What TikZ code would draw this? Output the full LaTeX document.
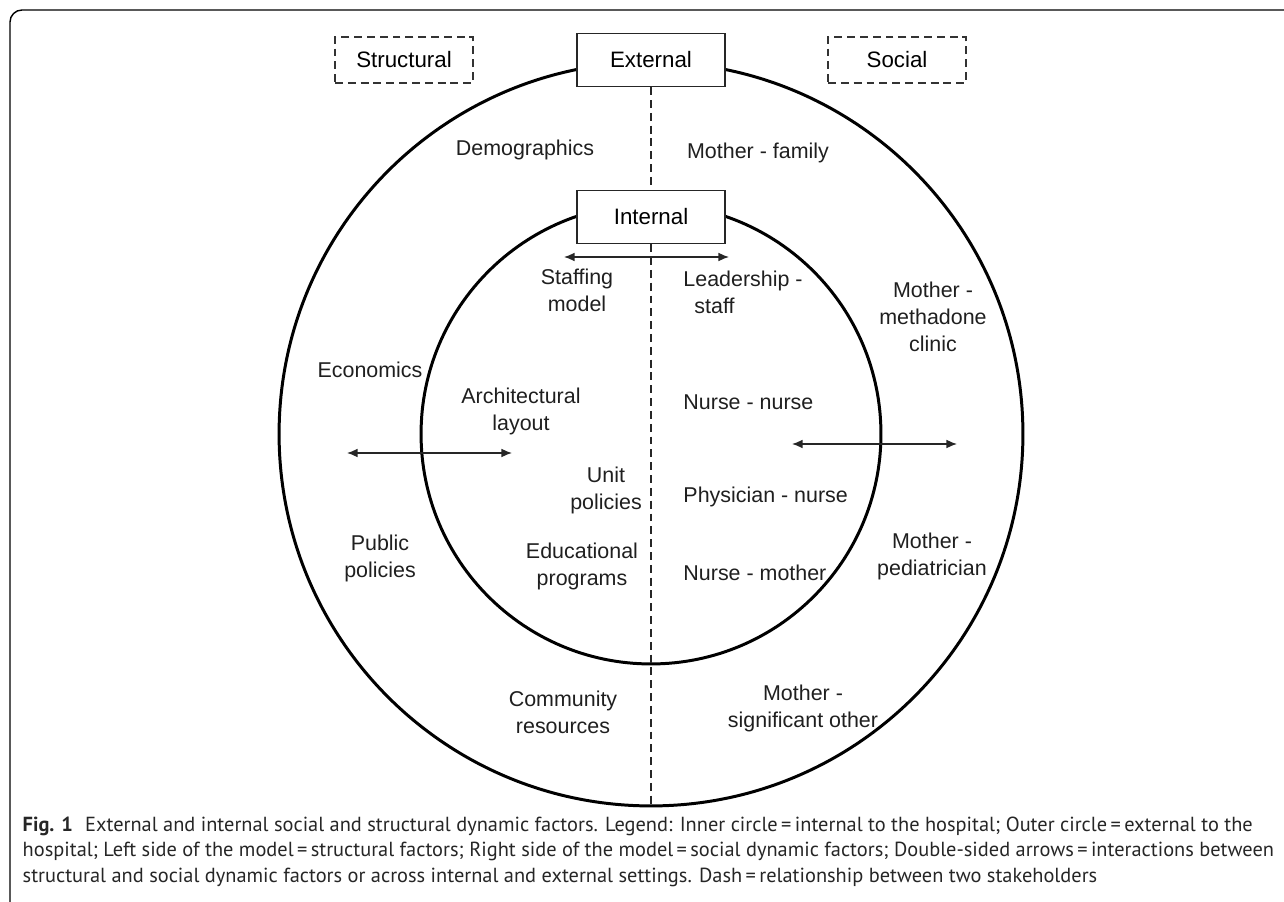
\documentclass[tikz,border=0pt]{standalone}
\usepackage{fontspec}
\setmainfont{Liberation Sans}
\newfontfamily\captionfont{PT Sans}
\usepackage{tikz}
\usetikzlibrary{arrows.meta,positioning}
\tikzset{
	block/.style     = {draw=black!85, line width=0.8pt, rectangle, fill=white,
		font = \fontsize{12.7}{15}\selectfont,
		minimum height = 1.06cm,
		minimum width = 2.96cm},
	dashblock/.style = {draw=black!80, line width=0.8pt, rectangle,
		font = \fontsize{12.7}{15}\selectfont,
		dash pattern = on 4.5pt off 2.8pt,
		minimum height = 0.92cm,
		minimum width = 2.76cm},
	ring/.style      = {draw, circle, line width=1.7pt, inner sep=0pt},
	factor/.style    = {text=black!88, align=center, inner sep=1pt,
		font = \fontsize{12.2}{15.4}\selectfont},
	dashline/.style  = {draw=black!85, line width=0.75pt, dash pattern=on 4.5pt off 2.8pt},
	link/.style      = {draw=black!85, line width=0.8pt, <->},
}

\begin{document}
\begin{tikzpicture}[ x=0.02cm, y=-0.02cm,              %<--one unit = one pixel of the sketch
					thick,                         %<--setting line style
					>={Latex[length=6pt, width=5pt]} ] %<--sets the arrowtype

	\useasboundingbox (0,0) rectangle (1284,902);
	%Figure frame
	\draw[line width=0.8pt, rounded corners=0.24cm] (10,902) -- (10,10) -- (1284,10);

	\draw%-----------------------------------------------------------------------------------------
	%Drawing the Rings:
	node(outer) at (651,434) [ring, minimum size=14.88cm] {}
	node(inner) at (651,434) [ring, minimum size=9.2cm] {}
	%Drawing the Heading Blocks:
	node(external) at (651,60) [block] {External}
	node(internal) at (651,217) [block] {Internal}
	node(structural) at (404,60) [dashblock] {Structural}
	node(social) at (897,60) [dashblock] {Social}
	%Drawing the External Factors:
	node(demo) at (525,150) [factor] {Demographics}
	node(econ) at (370,370) [factor] {Economics}
	node(public) at (380,558) [factor] {Public\\policies}
	node(community) at (563,712) [factor] {Community\\resources}
	node(family) at (758,153) [factor] {Mother - family}
	node(methadone) at (933,317) [factor] {Mother -\\methadone\\clinic}
	node(pediatrician) at (932,556) [factor] {Mother -\\pediatrician}
	node(significant) at (803,708) [factor] {Mother -\\significant other}
	%Drawing the Internal Factors:
	node(staffing) at (577,290) [factor] {Staffing\\model}
	node(layout) at (521,411) [factor] {Architectural\\layout}
	node(unit) at (606,490) [factor] {Unit\\policies}
	node(educ) at (582,566) [factor] {Educational\\programs}
	node(leader) at (681,292) [factor, anchor=west, align=left] {Leadership -\\\hspace{0.22cm}staff}
	node(nurse) at (681,402) [factor, anchor=west] {Nurse - nurse}
	node(physician) at (681,497) [factor, anchor=west] {Physician - nurse}
	node(mother) at (681,573) [factor, anchor=west] {Nurse - mother}
	%Drawing the Arrow Ends:
	node[shape=coordinate][](staffL) at (564,257){}
	node[shape=coordinate][](staffR) at (729,257){}
	node[shape=coordinate][](leftL) at (347,453){}
	node[shape=coordinate][](leftR) at (512,453){}
	node[shape=coordinate][](rightL) at (792,444){}
	node[shape=coordinate][](rightR) at (957,444){}
	;%---------------------------------------------------------------------------------------------

	%Joining the Blocks
	\draw[dashline] (external) -- (internal);
	\draw[dashline] (internal) -- (outer.south);

	%Double-sided arrows
	\draw[link] (staffL) -- (staffR);
	\draw[link] (leftL) -- (leftR);
	\draw[link] (rightL) -- (rightR);

	%Caption
	\node(caption) at (22,816) [anchor=north west, align=left, inner sep=0pt, text=black!85,
		font=\captionfont\fontsize{11.6}{14.5}\selectfont]
		{\textbf{Fig. 1}\hspace{0.6em}External and internal social and structural dynamic factors. Legend: Inner circle\,=\,internal to the hospital; Outer circle\,=\,external to the\\
		hospital; Left side of the model\,=\,structural factors; Right side of the model\,=\,social dynamic factors; Double-sided arrows\,=\,interactions between\\
		structural and social dynamic factors or across internal and external settings. Dash\,=\,relationship between two stakeholders};

\end{tikzpicture}
\end{document}
